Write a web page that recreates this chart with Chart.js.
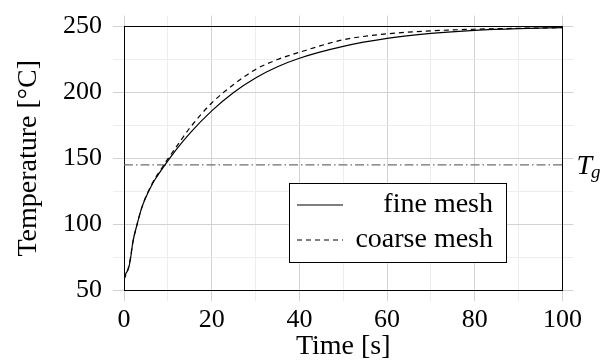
<!DOCTYPE html>
<html>
<head>
<meta charset="utf-8">
<script src="https://cdn.jsdelivr.net/npm/chart.js@4.4.1/dist/chart.umd.min.js"></script>
<style>
  html, body { margin: 0; padding: 0; background: #fff; }
  #wrap { width: 603px; height: 363px; }
</style>
</head>
<body>
<div id="wrap"><canvas id="chart" width="603" height="363"></canvas></div>
<script>
// Heating curves, fine vs coarse mesh, with the glass transition level.
var TIME = [0, 0.5, 1, 1.5, 2, 3, 4, 5, 6, 7, 8, 10, 12, 15, 20, 25, 30, 35, 40, 50, 60, 70, 80, 90, 100];
var FINE = [59, 63, 66, 74, 86, 100, 112, 120.5, 127.5, 133.5, 138.5, 148, 157, 169, 186, 200, 211, 219.5, 226, 235, 241, 244.8, 247.2, 248.5, 249.2];
var COARSE = [58, 62, 67, 75, 86, 100, 112, 121, 128, 134.5, 139.5, 149.5, 159, 173, 192, 206, 217.5, 225, 230.5, 240, 244.5, 246.8, 248, 248.7, 249.2];
var TG = 145;
var SERIES_LABELS = ['fine mesh', 'coarse mesh'];

var FONT = '"Liberation Serif", "Times New Roman", serif';
var MAJOR_GRID = '#d2d2d2';
var MINOR_GRID = '#ededed';

function pts(xs, ys) {
  return xs.map(function (x, i) { return { x: x, y: ys[i] }; });
}

function gridColor(major) {
  return function (ctx) {
    if (!ctx.tick) return MAJOR_GRID;
    return ctx.tick.value % major === 0 ? MAJOR_GRID : MINOR_GRID;
  };
}

function tickLabel(major) {
  return function (value) { return value % major === 0 ? value : ''; };
}

// legend drawn inside the plot: line sample on the left, right-aligned text
var insideLegend = {
  id: 'insideLegend',
  afterDraw: function (chart) {
    var ctx = chart.ctx;
    var a = chart.chartArea;
    var w = 217, h = 79;
    var x0 = a.right - 56.5 - w, y0 = a.bottom - 28 - h;
    ctx.save();
    ctx.fillStyle = '#fff';
    ctx.fillRect(x0, y0, w, h);
    ctx.strokeStyle = '#000';
    ctx.lineWidth = 1;
    ctx.strokeRect(x0 + 0.5, y0 + 0.5, w, h);
    ctx.font = '28px ' + FONT;
    ctx.textAlign = 'right';
    ctx.textBaseline = 'middle';
    for (var i = 0; i < 2; i++) {
      var ds = chart.data.datasets[i];
      var cy = y0 + 22 + i * 35;
      ctx.strokeStyle = ds.borderColor;
      ctx.lineWidth = ds.borderWidth;
      ctx.setLineDash(ds.borderDash || []);
      ctx.beginPath();
      ctx.moveTo(x0 + 8, cy);
      ctx.lineTo(x0 + 54, cy);
      ctx.stroke();
      ctx.setLineDash([]);
      ctx.fillStyle = '#000';
      ctx.fillText(ds.label, x0 + w - 13, cy);
    }
    ctx.restore();
  }
};

// T_g label at the right end of the horizontal reference line
var tgLabel = {
  id: 'tgLabel',
  afterDraw: function (chart) {
    var ctx = chart.ctx;
    var y = chart.scales.y.getPixelForValue(TG);
    var x = chart.chartArea.right + 14;
    ctx.save();
    ctx.fillStyle = '#000';
    ctx.textBaseline = 'alphabetic';
    ctx.textAlign = 'left';
    ctx.font = 'italic 28px ' + FONT;
    ctx.fillText('T', x, y + 9);
    var tw = ctx.measureText('T').width;
    ctx.font = 'italic 19px ' + FONT;
    ctx.fillText('g', x + tw - 1, y + 13);
    ctx.restore();
  }
};

var W = 603, H = 363;
var LEFT = 124, RIGHT = 562.5, TOP = 23.3, BOTTOM = 290;

new Chart(document.getElementById('chart'), {
  type: 'line',
  data: {
    datasets: [
      {
        label: SERIES_LABELS[0],
        data: pts(TIME, FINE),
        borderColor: '#000',
        borderWidth: 1.2,
        pointRadius: 0,
        cubicInterpolationMode: 'monotone'
      },
      {
        label: SERIES_LABELS[1],
        data: pts(TIME, COARSE),
        borderColor: '#000',
        borderWidth: 1.2,
        borderDash: [5, 4],
        pointRadius: 0,
        cubicInterpolationMode: 'monotone'
      },
      {
        label: 'Tg',
        data: [{ x: 0, y: TG }, { x: 100, y: TG }],
        borderColor: '#6e6e6e',
        borderWidth: 1.3,
        borderDash: [9, 3, 1.5, 3],
        pointRadius: 0
      }
    ]
  },
  options: {
    responsive: false,
    animation: false,
    layout: { padding: 0 },
    plugins: {
      legend: { display: false },
      tooltip: { enabled: false }
    },
    scales: {
      x: {
        type: 'linear',
        position: 'bottom',
        min: 0,
        max: 100,
        afterFit: function (s) { s.height = H - BOTTOM; },
        ticks: {
          stepSize: 10,
          autoSkip: false,
          maxRotation: 0,
          padding: 4,
          color: '#000',
          font: { family: FONT, size: 26 },
          callback: tickLabel(20)
        },
        grid: { color: gridColor(20), tickColor: gridColor(20), tickLength: 11 },
        border: { color: '#000', width: 1 },
        title: {
          display: true,
          text: 'Time [s]',
          color: '#000',
          font: { family: FONT, size: 28 },
          padding: { top: -8, bottom: 0 }
        }
      },
      x2: {
        type: 'linear',
        position: 'top',
        min: 0,
        max: 100,
        afterFit: function (s) { s.height = TOP; },
        ticks: { stepSize: 10, display: false },
        grid: { drawOnChartArea: false, color: gridColor(20), tickColor: gridColor(20), tickLength: 11 },
        border: { color: '#000', width: 1 }
      },
      y: {
        type: 'linear',
        position: 'left',
        min: 50,
        max: 250,
        afterFit: function (s) { s.width = LEFT; },
        ticks: {
          stepSize: 25,
          autoSkip: false,
          padding: 11,
          color: '#000',
          font: { family: FONT, size: 26 },
          callback: tickLabel(50)
        },
        grid: { color: gridColor(50), tickColor: gridColor(50), tickLength: 11 },
        border: { color: '#000', width: 1 },
        title: {
          display: true,
          text: 'Temperature [°C]',
          color: '#000',
          font: { family: FONT, size: 28 },
          padding: { top: 12, bottom: 0 }
        }
      },
      y2: {
        type: 'linear',
        position: 'right',
        min: 50,
        max: 250,
        afterFit: function (s) { s.width = W - RIGHT; },
        ticks: { stepSize: 25, display: false },
        grid: { drawOnChartArea: false, color: gridColor(50), tickColor: gridColor(50), tickLength: 11 },
        border: { color: '#000', width: 1 }
      }
    }
  },
  plugins: [insideLegend, tgLabel]
});
</script>
</body>
</html>
